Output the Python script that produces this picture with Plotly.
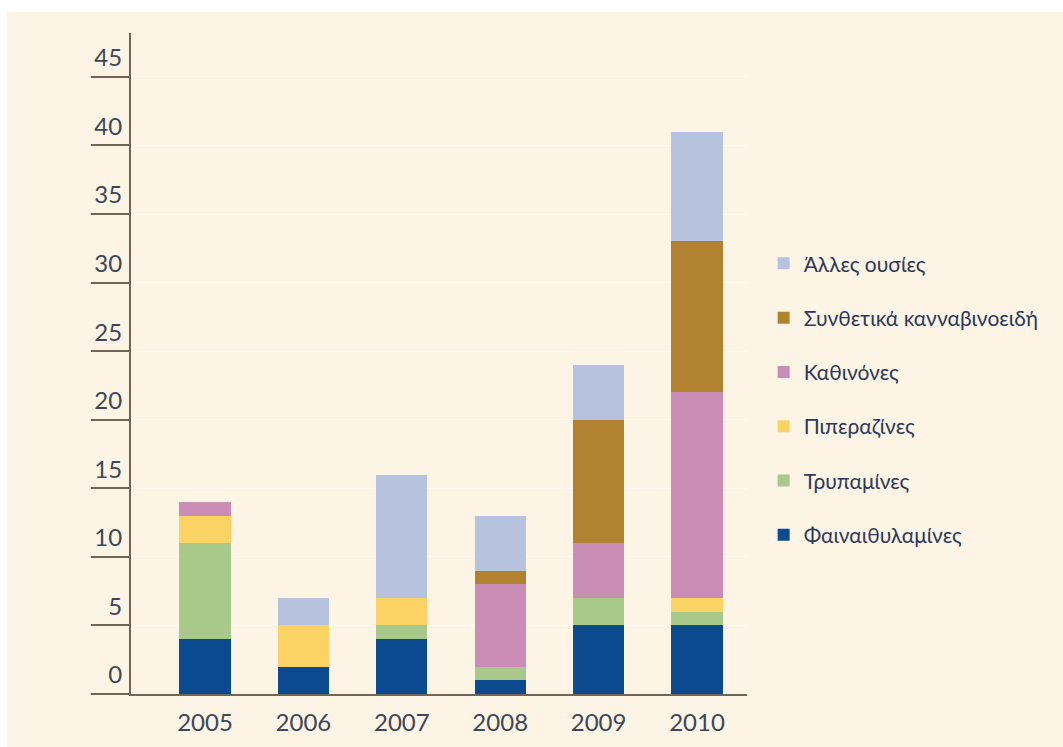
import plotly.graph_objects as go

years = ["2005", "2006", "2007", "2008", "2009", "2010"]

phenethylamines = [4, 2, 4, 1, 5, 5]
tryptamines = [7, 0, 1, 1, 2, 1]
piperazines = [2, 3, 2, 0, 0, 1]
cathinones = [1, 0, 0, 6, 4, 15]
cannabinoids = [0, 0, 0, 1, 9, 11]
other = [0, 2, 9, 4, 4, 8]

series = [
    ("Φαιναιθυλαμίνες", phenethylamines, "#0B4A8F"),
    ("Τρυπαμίνες", tryptamines, "#A9C98A"),
    ("Πιπεραζίνες", piperazines, "#FBD264"),
    ("Καθινόνες", cathinones, "#C98DB6"),
    ("Συνθετικά κανναβινοειδή", cannabinoids, "#B1822F"),
    ("Άλλες ουσίες", other, "#B7C3DE"),
]

cream = "#FCF5E5"
axis_col = "#6E6657"
font_fam = "Lato, 'Noto Sans', sans-serif"

fig = go.Figure()
n = len(series)
for i, (name, vals, col) in enumerate(series):
    fig.add_trace(go.Bar(
        x=list(range(len(years))), y=vals, name=name,
        marker=dict(color=col, line=dict(width=0)),
        width=0.52, legendgroup=f"g{i}", legendrank=100 * (n - i),
    ))

fig.update_layout(
    barmode="stack",
    width=1063, height=747,
    margin=dict(l=131, r=316, t=33, b=53),
    paper_bgcolor="white",
    plot_bgcolor=cream,
    font=dict(family=font_fam, color="#3E4658"),
    shapes=[dict(type="rect", xref="paper", yref="paper",
                 x0=-0.2013, x1=1.52, y0=-0.09, y1=1.0318,
                 fillcolor=cream, line=dict(width=0), layer="below")],
    legend=dict(
        x=1.027, xanchor="left", y=0.682, yanchor="top",
        traceorder="grouped", tracegroupgap=24,
        font=dict(size=21, color="#2E3858", family=font_fam),
        bgcolor="rgba(0,0,0,0)",
    ),
    xaxis=dict(
        range=[-0.752, 5.508],
        tickmode="array", tickvals=list(range(len(years))), ticktext=years,
        showline=True, linecolor=axis_col, linewidth=2,
        ticks="", showgrid=False, zeroline=False,
        tickfont=dict(size=24, color="#3E4658"),
        ticklabelstandoff=6,
    ),
    yaxis=dict(
        range=[0, 48.2], dtick=5, tick0=0,
        showline=True, linecolor=axis_col, linewidth=2,
        ticks="outside", ticklen=38, tickcolor=axis_col, tickwidth=2,
        showgrid=True, gridcolor="#FEFAF1", gridwidth=1,
        zeroline=False,
        tickfont=dict(size=24, color="#3E4658"),
        ticklabelshift=-19, ticklabelstandoff=-36,
    ),
)

fig.write_html("out.html")
